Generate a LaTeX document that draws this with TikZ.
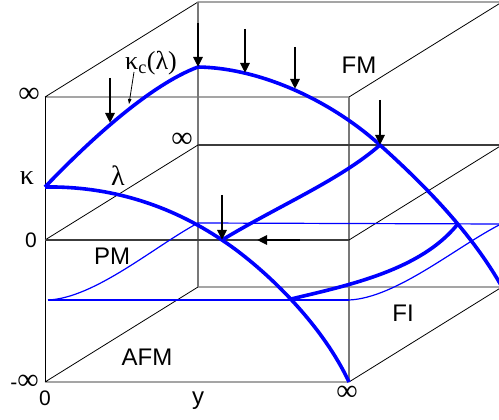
\documentclass[tikz,border=0pt]{standalone}
\usepackage{fontspec}
\setmainfont{Liberation Sans}
\newfontfamily\grk{Liberation Serif}
\usetikzlibrary{arrows.meta, calc}
\definecolor{PhBlue}{RGB}{0,0,255}
\definecolor{EdgeGrey}{RGB}{120,120,120}
\definecolor{PlaneGrey}{RGB}{60,60,60}

\begin{document}
\begin{tikzpicture}[x=1pt, y=-1pt,
          edge/.style={black, line width=0.8pt},
          vedge/.style={EdgeGrey, line width=1.3pt},
          zplane/.style={PlaneGrey, line width=1.8pt},
          crit/.style={PhBlue, line width=3.6pt, line join=round},
          sheet/.style={PhBlue, line width=1.2pt},
          push/.style={-{Triangle[length=10pt,width=9pt]}, line width=2.6pt, black},
          region/.style={font=\fontsize{24}{26}\selectfont, inner sep=0pt},
          axlbl/.style={font=\fontsize{21}{22}\selectfont, inner sep=0pt},
          inflbl/.style={font=\grk\fontsize{30}{30}\selectfont, inner sep=0pt},
          greek/.style={font=\grk\fontsize{28}{30}\selectfont, inner sep=0pt}
        ]
        \useasboundingbox (0,0) rectangle (499,420);

        % Box corners
        \coordinate (ftl) at (45,97);   \coordinate (ftr) at (349,97);
        \coordinate (fml) at (45,240);  \coordinate (fmr) at (349,240);
        \coordinate (fbl) at (45,382);  \coordinate (fbr) at (349,382);
        \coordinate (btl) at (198,2);   \coordinate (btr) at (502,2);
        \coordinate (bml) at (198,145); \coordinate (bmr) at (502,145);
        \coordinate (bbl) at (198,287); \coordinate (bbr) at (502,287);

        % Top and bottom planes
        \draw[edge] (ftl)--(ftr)--(btr) (ftl)--(btl)--(btr);
        \draw[edge] (fbl)--(fbr)--(bbr) (fbl)--(bbl)--(bbr);
        \draw[edge] (ftl)--(fbl);
        \draw[vedge] (btl)--(bbl);
        \draw[vedge] (ftr)--(fbr);

        % kappa = 0 plane
        \draw[edge] (fml)--(bml) (fmr)--(bmr);
        \draw[zplane] (fml)--(fmr);
        \draw[zplane] (bml)--(bmr);

        % Thin sheet
        \coordinate (sfl) at (48,300);  \coordinate (sfr) at (349,300);
        \coordinate (sbl) at (198,223); \coordinate (sbr) at (501,224);
        \draw[sheet] (sfl)--(sfr);
        \draw[sheet] (sbl)--(sbr);
        \draw[sheet] (sfl) .. controls (95,298) and (155,246) .. (sbl);
        \draw[sheet] (sfr) .. controls (396,298) and (456,247) .. (sbr);

        % Critical lines
        \coordinate (K) at (45,187);
        \coordinate (P) at (198,67);
        \coordinate (Q) at (380,145);
        \coordinate (R) at (222,240);
        \coordinate (S) at (291,299);
        \coordinate (T) at (457,225);
        \draw[crit] (K) .. controls (90,140) and (150,85) .. (P);
        \draw[crit] (P) .. controls (260,68) and (330,100) .. (Q)
                        .. controls (420,181) and (470,230) .. (bbr);
        \draw[crit] (K) .. controls (110,186) and (170,205) .. (R)
                        .. controls (260,265) and (320,320) .. (fbr);
        \draw[crit] (R) .. controls (280,205) and (340,180) .. (Q);
        \draw[crit] (S) .. controls (350,285) and (420,270) .. (T);

        % Flow arrows
        \coordinate (a1) at (110,123);
        \coordinate (a3) at (245,73);
        \coordinate (a4) at (295,89);
        \draw[push] ($(a1)+(0,-45)$) -- (a1);
        \draw[push] ($(P)+(0,-44)$) -- (P);
        \draw[push] ($(a3)+(0,-44)$) -- (a3);
        \draw[push] ($(a4)+(0,-42)$) -- (a4);
        \draw[push] ($(Q)+(0,-45)$) -- (Q);
        \draw[push] ($(R)+(0,-45)$) -- (R);
        \draw[push] (300,240) -- (257,240);

        % Labels
        \node[greek, font=\grk\fontsize{26}{28}\selectfont] (kc) at (151,63)
              {κ\textsubscript{c}(λ)};
        \coordinate (kcpt) at (129,104);
        \draw[-{Triangle[length=5pt,width=3.5pt]}, line width=0.8pt]
              (134,72) -- (kcpt);
        \node[greek] (kap) at (27,178) {κ};
        \node[greek] (lam) at (118,176) {λ};
        \node[inflbl] (kinf) at (29,95) {∞};
        \node[axlbl] (kzero) at (31,240) {0};
        \node[inflbl, anchor=east] (kminf) at (39,382)
              {{\normalfont\fontsize{21}{21}\selectfont -}∞};
        \node[axlbl] (yzero) at (45,398) {0};
        \node[axlbl, font=\fontsize{24}{26}\selectfont] (ylab) at (198,401) {y};
        \node[inflbl] (yinf) at (347,393) {∞};
        \node[inflbl] (linf) at (182,140) {∞};
        \node[region] (fm) at (359,65) {FM};
        \node[region] (pm) at (112,256) {PM};
        \node[region] (afm) at (147,357) {AFM};
        \node[region] (fi) at (403,313) {FI};
      \end{tikzpicture}
\end{document}
